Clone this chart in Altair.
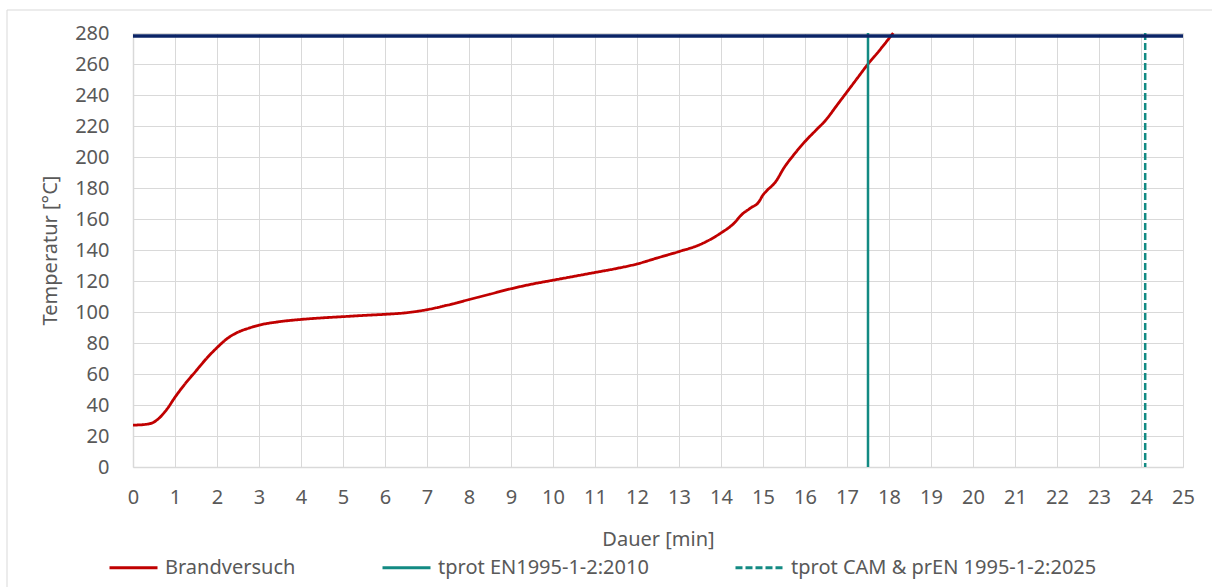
import altair as alt
import pandas as pd

# Brandversuch curve
t_min = [0, 0.3, 0.5, 0.6, 0.8, 1.0, 1.25, 1.5, 1.75, 2.0, 2.25, 2.5, 2.75, 3.0, 3.5, 4.0, 4.5, 5.0, 5.5, 6.0, 6.5, 7.0,
         7.5, 8.0, 8.5, 9.0, 9.5, 10.0, 10.5, 11.0, 11.5, 12.0, 12.5, 13.0, 13.5, 14.0, 14.3, 14.5, 14.7, 14.9,
         15.0, 15.1, 15.3, 15.5, 15.75, 16.0, 16.25, 16.5, 16.75, 17.0, 17.25, 17.5, 17.75, 18.1]
temp = [27, 27.5, 29, 31, 37, 45, 54, 62, 70, 77, 83, 87, 89.5, 91.5, 93.8, 95.2, 96.2, 97, 97.8, 98.5, 99.5, 101.5,
        104.5, 108, 111.5, 115, 118, 120.5, 123, 125.5, 128, 131, 135, 139, 143.5, 151, 157, 163, 167, 171,
        175.5, 178.5, 184, 193, 202, 210, 217, 224, 233, 242, 251, 260, 268, 280]

series = ["Brandversuch", "tprot EN1995-1-2:2010", "tprot CAM & prEN 1995-1-2:2025"]
colors = ["#C00000", "#138A83", "#138A83"]
dashes = [[1, 0], [1, 0], [7, 3]]
vlines_x = [17.5, 24.1]
hline_y = [278]
x_ticks = list(range(0, 26))
y_ticks = list(range(0, 281, 20))

curve = pd.DataFrame({"t": t_min, "T": temp, "s": series[0]})
vlines = pd.DataFrame({"t": vlines_x, "s": series[1:]})
hline = pd.DataFrame({"T": hline_y})

font = "Noto Sans"
txt = "#595959"
grid = "#d9d9d9"
fs = 20

color = alt.Color("s:N", scale=alt.Scale(domain=series, range=colors),
                  legend=alt.Legend(title=None, orient="none", legendX=-25, legendY=509,
                                    direction="horizontal", symbolType="stroke", symbolSize=2304,
                                    symbolStrokeWidth=3, labelFontSize=fs, labelFont=font, labelColor=txt,
                                    columnPadding=80, labelOffset=6, labelLimit=500))
dash = alt.StrokeDash("s:N", scale=alt.Scale(domain=series, range=dashes), legend=alt.Legend(title=None))

xaxis = alt.Axis(title="Dauer [min]", values=x_ticks, grid=True, labelOverlap=False, labelFlush=False)
yaxis = alt.Axis(title="Temperatur [°C]", values=y_ticks, grid=True, labelOverlap=False, labelFlush=False)
xs = alt.Scale(domain=[0, 25], nice=False)
ys = alt.Scale(domain=[0, 280], nice=False)

line = alt.Chart(curve).mark_line(interpolate="monotone", strokeWidth=2.8).encode(
    x=alt.X("t:Q", scale=xs, axis=xaxis), y=alt.Y("T:Q", scale=ys, axis=yaxis),
    color=color, strokeDash=dash)

rules = alt.Chart(vlines).mark_rule(strokeWidth=2.5).encode(
    x=alt.X("t:Q", scale=xs, axis=xaxis), color=color, strokeDash=dash)

navy = alt.Chart(hline).mark_rule(strokeWidth=3.5, color="#0B2466").encode(
    y=alt.Y("T:Q", scale=ys, axis=yaxis))

frame_left = alt.Chart(hline).mark_rule(color=grid, strokeWidth=1).encode(
    x=alt.value(-126), y=alt.value(-23), y2=alt.value(560))
frame_top = alt.Chart(hline).mark_rule(color=grid, strokeWidth=1).encode(
    x=alt.value(-126), x2=alt.value(1079), y=alt.value(-23))

chart = alt.layer(frame_left, frame_top, line, rules, navy).properties(
    width=1050, height=434,
    autosize=alt.AutoSizeParams(type="none"),
    padding={"left": 133, "top": 33, "right": 29, "bottom": 120},
    background="white",
).configure_view(stroke=None).configure_axis(
    labelFont=font, titleFont=font, labelColor=txt, titleColor=txt,
    labelFontSize=fs, titleFontSize=fs, titleFontWeight="normal",
    gridColor=grid, gridWidth=1, domainColor=grid, domainWidth=1.5, ticks=False,
    labelOverlap=False,
).configure_axisX(labelPadding=20, titlePadding=22).configure_axisY(labelPadding=24, titlePadding=14)

chart.save("out.html", embed_options={"renderer": "svg", "actions": False})
